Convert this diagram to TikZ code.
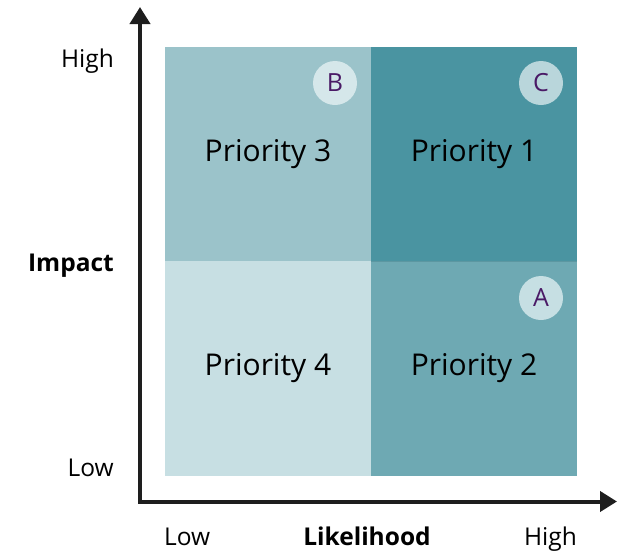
\documentclass[tikz,border=0pt]{standalone}
\usepackage{fontspec}
\setmainfont{Open Sans}
\usetikzlibrary{arrows.meta}
\definecolor{cTL}{HTML}{9BC3CA}
\definecolor{cTR}{HTML}{4A94A1}
\definecolor{cBL}{HTML}{C7DFE3}
\definecolor{cBR}{HTML}{6EA9B3}
\definecolor{circB}{HTML}{D5E7EA}
\definecolor{circC}{HTML}{B9D6DB}
\definecolor{circA}{HTML}{C6DFE3}
\definecolor{letter}{HTML}{4A1A66}
\definecolor{axis}{HTML}{1E1E1E}
\tikzset{
  cell/.style={draw=none, minimum width=206pt, minimum height=214.5pt, inner sep=0pt, font=\fontsize{30}{36}\selectfont},
  badge/.style={circle, minimum size=44pt, inner sep=0pt, text=letter, font=\fontsize{25}{30}\selectfont},
  axisline/.style={draw=axis, line width=4pt, -{Triangle[width=20pt,length=17pt]}},
  lbl/.style={inner sep=0pt, font=\fontsize{24.5}{29}\selectfont},
  blbl/.style={inner sep=0pt, font=\bfseries\fontsize{24.5}{29}\selectfont},
}
\begin{document}
\begin{tikzpicture}[x=1pt,y=-1pt]
\useasboundingbox (0,0) rectangle (622,550);
% cells
\node[cell, fill=cTL] (p3) at (268,154) {Priority 3};
\node[cell, fill=cTR] (p1) at (474,154) {Priority 1};
\node[cell, fill=cBL] (p4) at (268,368.5) {Priority 4};
\node[cell, fill=cBR] (p2) at (474,368.5) {Priority 2};
\draw[draw=cTR!80!black, opacity=0.35, line width=1pt] (p1.south west) -- (p1.south east);
% badges
\node[badge, fill=circB] (b) at (335,83) {B};
\node[badge, fill=circC] (c) at (541,83) {C};
\node[badge, fill=circA] (a) at (541,298) {A};
% axes
\coordinate (origin) at (140,501.5);
\coordinate (ytip) at (140,7);
\coordinate (xtip) at (617,501.5);
\draw[axisline, line cap=rect] (origin) -- (ytip);
\draw[axisline, line cap=rect] (origin) -- (xtip);
% labels
\node[lbl, anchor=base east] (yhigh) at (114,67) {High};
\node[lbl, anchor=base east] (ylow) at (114,476) {Low};
\node[blbl, anchor=base east] (impact) at (114,271) {Impact};
\node[lbl, anchor=base west] (xlow) at (164,545) {Low};
\node[lbl, anchor=base east] (xhigh) at (577,545) {High};
\node[blbl, anchor=base] (likelihood) at (367,545) {Likelihood};
\end{tikzpicture}
\end{document}
